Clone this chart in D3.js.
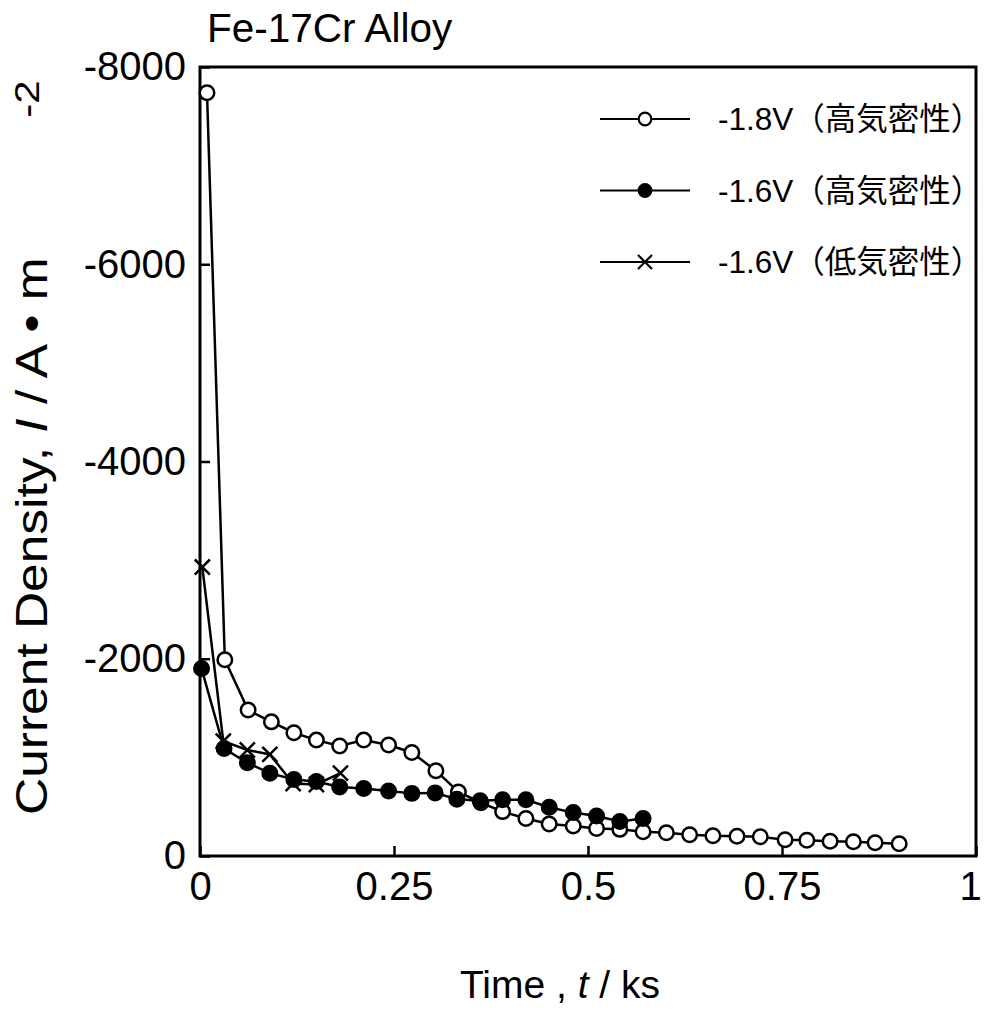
<!DOCTYPE html>
<html>
<head>
<meta charset="utf-8">
<script src="https://cdn.jsdelivr.net/npm/d3@7"></script>
<style>
body { margin: 0; background: #fff; }
text { font-family: "Liberation Sans", Arial, "Noto Sans CJK JP", sans-serif; fill: #000; }
</style>
</head>
<body>
<div id="svg-holder"></div>
<script>
// -1.8V (high airtightness), time in ks, current density in A/m2
let time18 = [0.009, 0.032, 0.062, 0.092, 0.121, 0.150, 0.180, 0.211, 0.243, 0.273, 0.304, 0.333,
    0.362, 0.390, 0.420, 0.450, 0.481, 0.511, 0.541, 0.571, 0.601, 0.631, 0.661, 0.692, 0.722,
    0.754, 0.782, 0.812, 0.842, 0.870, 0.901]
let cur18 = [-7740, -1990, -1480, -1360, -1250, -1175, -1115, -1175, -1125, -1050, -865, -650,
    -540, -450, -380, -325, -305, -280, -270, -245, -235, -215, -205, -200, -195,
    -165, -160, -150, -145, -135, -125]

// -1.6V (high airtightness)
let time16h = [0.002, 0.031, 0.061, 0.090, 0.121, 0.150, 0.180, 0.211, 0.243, 0.273, 0.303, 0.331,
    0.361, 0.390, 0.420, 0.450, 0.481, 0.511, 0.541, 0.571]
let cur16h = [-1900, -1090, -945, -840, -775, -755, -700, -685, -660, -635, -640, -575,
    -560, -570, -570, -495, -440, -405, -350, -380]

// -1.6V (low airtightness)
let time16l = [0.003, 0.030, 0.061, 0.090, 0.120, 0.150, 0.181]
let cur16l = [-2930, -1165, -1075, -1030, -735, -725, -840]

let xTicks = [0, 0.25, 0.5, 0.75, 1]
let yTicks = [0, -2000, -4000, -6000, -8000]
let legendLabels = ["-1.8V（高気密性）", "-1.6V（高気密性）", "-1.6V（低気密性）"]
let seriesKeys = ["open", "filled", "cross"]

let series = [
    {key: "open", pts: time18.map((t, i) => ({t: t, v: cur18[i]}))},
    {key: "filled", pts: time16h.map((t, i) => ({t: t, v: cur16h[i]}))},
    {key: "cross", pts: time16l.map((t, i) => ({t: t, v: cur16l[i]}))}
]

let width = 985,
    height = 1011

let svg = d3.select("#svg-holder").append("svg")
    .attr("width", width)
    .attr("height", height)

let x = d3.scaleLinear()
    .domain([0, 1])
    .range([200, 976])

let y = d3.scaleLinear()
    .domain([0, -8000])
    .range([856, 67])

let shape = d3.scaleOrdinal()
    .domain(seriesKeys)
    .range([d3.symbolCircle, d3.symbolCircle, d3.symbolTimes])

let symSize = d => d === "cross" ? 150 : 165

// axes with inward ticks
svg.append("g")
    .attr("transform", "translate(0,856)")
    .call(d3.axisBottom(x).tickValues(xTicks).tickSize(-10).tickPadding(16).tickFormat(d => String(d)))
svg.append("g")
    .attr("transform", "translate(200,0)")
    .call(d3.axisLeft(y).tickValues(yTicks).tickSize(-10).tickPadding(14).tickFormat(d => String(d)))

svg.selectAll(".domain").remove()
svg.selectAll(".tick line").attr("stroke", "#000").attr("stroke-width", 2.5)
svg.selectAll(".tick text")
    .attr("font-family", null)
    .attr("font-size", 40)

// last x label sits on the right border, pull it in a bit
svg.selectAll(".tick text").filter(d => d === 1).attr("dx", -6)

// frame
svg.append("rect")
    .attr("x", x(0))
    .attr("y", y(-8000))
    .attr("width", x(1) - x(0))
    .attr("height", y(0) - y(-8000))
    .attr("fill", "none")
    .attr("stroke", "#000")
    .attr("stroke-width", 3)

let line = d3.line()
    .x(d => x(d.t))
    .y(d => y(d.v))

svg.append("g")
    .selectAll("path")
    .data(series)
    .enter()
    .append("path")
        .attr("d", d => line(d.pts))
        .attr("fill", "none")
        .attr("stroke", "#000")
        .attr("stroke-width", 2.5)

series.forEach(s => {
    svg.append("g")
        .selectAll("path")
        .data(s.pts)
        .enter()
        .append("path")
            .attr("transform", d => `translate(${x(d.t)},${y(d.v)})`)
            .attr("d", d3.symbol().type(shape(s.key)).size(symSize(s.key)))
            .attr("fill", s.key === "open" ? "#fff" : (s.key === "filled" ? "#000" : "none"))
            .attr("stroke", "#000")
            .attr("stroke-width", 2.5)
})

// legend
let legend = svg.append("g")
    .selectAll("g")
    .data(seriesKeys)
    .enter()
    .append("g")
        .attr("transform", (d, i) => `translate(600,${119 + i * 71.5})`)

legend.append("line")
    .attr("x1", 0)
    .attr("x2", 90)
    .attr("stroke", "#000")
    .attr("stroke-width", 2.2)

legend.append("path")
    .attr("transform", "translate(45,0)")
    .attr("d", d => d3.symbol().type(shape(d)).size(d === "cross" ? 130 : 125)())
    .attr("fill", d => d === "open" ? "#fff" : (d === "filled" ? "#000" : "none"))
    .attr("stroke", "#000")
    .attr("stroke-width", 2.2)

legend.append("text")
    .attr("x", 118)
    .attr("dy", "0.36em")
    .attr("font-size", 31.5)
    .text((d, i) => legendLabels[i])

// title
svg.append("text")
    .attr("x", 207)
    .attr("y", 42)
    .attr("font-size", 40.5)
    .text("Fe-17Cr Alloy")

// x axis title
let xt = svg.append("text")
    .attr("x", 560)
    .attr("y", 998)
    .attr("text-anchor", "middle")
    .attr("font-size", 39)
xt.append("tspan").text("Time , ")
xt.append("tspan").attr("font-style", "italic").text("t")
xt.append("tspan").text(" / ks")

// y axis title, the original face runs a little wide
let yt = svg.append("text")
    .attr("transform", "translate(47,815) rotate(-90) scale(1.17,1)")
    .attr("font-size", 44)
yt.append("tspan").text("Current Density, ")
yt.append("tspan").attr("font-style", "italic").text("I")
yt.append("tspan").text(" / A • m")
yt.append("tspan").attr("x", 596).attr("dy", -8).attr("font-size", 36).text("-2")
</script>
</body>
</html>
